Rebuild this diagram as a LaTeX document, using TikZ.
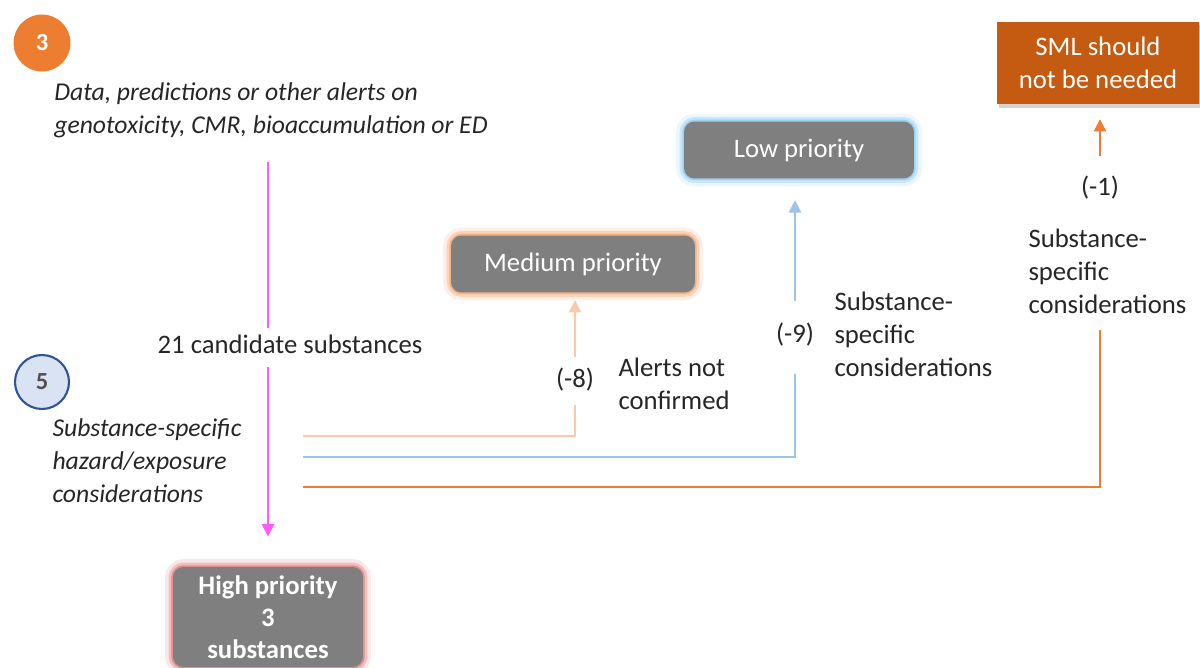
\documentclass[tikz,border=0pt]{standalone}
\usepackage{fontspec}
\setmainfont{Carlito}
\usetikzlibrary{positioning,arrows.meta,shadows}
\definecolor{stepor}{HTML}{ED7D31}
\definecolor{smlor}{HTML}{C55A11}
\definecolor{peach}{HTML}{F8CBAD}
\definecolor{skyb}{HTML}{9DC3E6}
\definecolor{boxgray}{HTML}{7F7F7F}
\definecolor{magl}{HTML}{FF5CFF}
\definecolor{lightb}{HTML}{DAE3F3}
\definecolor{darkb}{HTML}{2F5597}
\definecolor{glowred}{HTML}{E38C8C}
\definecolor{glowor}{HTML}{F4B183}
\definecolor{glowbl}{HTML}{9DD0F5}
\definecolor{txt}{HTML}{262626}
\tikzset{
  every picture/.style={line width=0.75pt},
  base/.style={font=\fontsize{15.2}{18.7}\selectfont, text=txt},
  slant/.style={base, font=\fontsize{14.6}{18.7}\selectfont\itshape},
  prio/.style={base, rounded corners=6pt, fill=boxgray, text=white, align=center},
  glow/.style={preaction={draw=#1, line width=9pt, opacity=0.2},
               preaction={draw=#1, line width=5pt, opacity=0.45},
               preaction={draw=#1, line width=2pt}},
  stepnum/.style={circle, minimum size=1.14cm, inner sep=0pt, font=\fontsize{14}{16}\selectfont\bfseries},
  conn/.style={line width=1.1pt},
  tip/.style={-{Triangle[width=7pt,length=7pt]}}
}
\begin{document}
\begin{tikzpicture}[x=0.02cm,y=-0.02cm]
\useasboundingbox (0,0) rectangle (1200,668);
% step markers
\node[stepnum, fill=stepor, text=white] (c3) at (42,43) {3};
\node[stepnum, fill=lightb, draw=darkb, line width=1.2pt, text=txt!80, minimum size=1.08cm] (c5) at (42,382) {5};
%
\node[slant, align=left] (data) at (271,110)
  {Data, predictions or other alerts on\\genotoxicity, CMR, bioaccumulation or ED};
\node[slant, align=left, anchor=west] (haz) at (46,461)
  {Substance-specific\\hazard/exposure\\considerations};
\node[base] (cand) at (290,344) {21 candidate substances};
%
\node[prio, glow=glowred, minimum width=3.8cm, minimum height=2.0cm, font=\fontsize{15.2}{18.3}\selectfont\bfseries] (high) at (268,617)
  {High priority\\3\\substances};
\node[prio, glow=glowor, minimum width=4.88cm, minimum height=1.14cm] (medium) at (573,264) {Medium priority};
\node[prio, glow=glowbl, minimum width=4.6cm, minimum height=1.14cm] (low) at (799,150) {Low priority};
\node[base, fill=smlor, text=white, align=center, minimum width=4.04cm, minimum height=1.66cm,
  drop shadow={opacity=0.35, shadow xshift=1pt, shadow yshift=-2pt}] (sml) at (1098,63) {SML should\\not be needed};
%
\node[base] (m8) at (575,380) {(-8)};
\node[base, align=left, anchor=west] (alerts) at (612,384) {Alerts not\\confirmed};
\node[base] (m9) at (795,335) {(-9)};
\node[base, align=left, anchor=west] (spec9) at (828,334) {Substance-\\specific\\considerations};
\node[base] (m1) at (1100,188) {(-1)};
\node[base, align=left, anchor=west] (spec1) at (1022,271) {Substance-\\specific\\considerations};
%
\coordinate (s8) at (303,436);
\coordinate (s9) at (303,457);
\coordinate (s1) at (303,487);
% main flow
\draw[conn, magl, shorten <=10pt] (data.south -| high.north) -- (cand.north -| high.north);
\draw[conn, magl, tip, shorten <=4pt, shorten >=17pt] (cand.south -| high.north) -- (high.north);
% removed substances
\draw[conn, peach, shorten >=4pt] (s8) -| (m8.south);
\draw[conn, peach, tip, shorten <=3pt, shorten >=4pt] (m8.north) -- (medium.south -| m8.north);
\draw[conn, skyb, shorten >=12pt] (s9) -| (m9.south);
\draw[conn, skyb, tip, shorten <=9pt, shorten >=12pt] (m9.north) -- (low.south -| m9.north);
\draw[conn, stepor, shorten >=6pt] (s1) -| (spec1.south -| m1);
\draw[conn, stepor, tip, shorten <=8pt, shorten >=8pt] (m1.north) -- (sml.south -| m1.north);
\end{tikzpicture}
\end{document}
